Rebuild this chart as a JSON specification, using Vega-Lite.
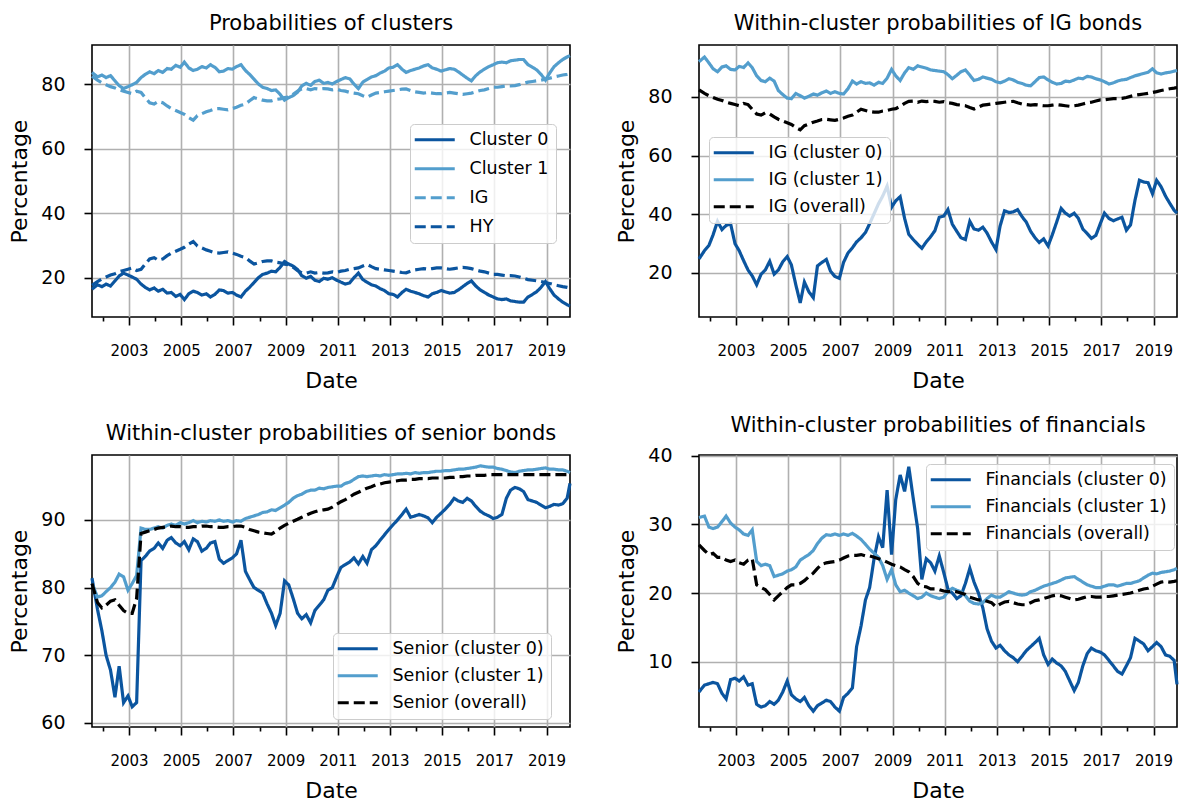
{
"$schema": "https://vega.github.io/schema/vega-lite/v6.json",
"padding": {"left": 8, "top": 12, "right": 8, "bottom": 3},
"config": {
  "font": "DejaVu Sans",
  "view": {"stroke": "#000000", "strokeWidth": 1.6},
  "axis": {"domain": false, "grid": true, "gridColor": "#b0b0b0", "gridWidth": 1.6, "tickColor": "#000000", "tickWidth": 1.6, "labelColor": "#000000", "titleColor": "#000000", "titleFontWeight": "normal", "labelFont": "DejaVu Sans", "titleFont": "DejaVu Sans"},
  "axisX": {"labelFontSize": 15, "titleFontSize": 22, "labelPadding": 18, "titlePadding": 12, "labelFlush": false, "labelOverlap": false},
  "axisY": {"labelFontSize": 19, "titleFontSize": 22, "tickSize": 8, "labelPadding": 19, "titlePadding": 9},
  "title": {"fontSize": 21, "fontWeight": "normal", "font": "DejaVu Sans", "color": "#000000", "offset": 11},
  "legend": {"orient": "none", "labelFontSize": 17.5, "labelFont": "DejaVu Sans", "labelColor": "#000000", "symbolType": "M-4,0H4", "symbolStrokeWidth": 3.2, "symbolSize": 100, "symbolOffset": 9, "labelOffset": 26, "padding": 7, "rowPadding": 8, "fillColor": "rgba(255,255,255,0.8)", "strokeColor": "#cccccc", "cornerRadius": 4, "labelLimit": 400}
},
"data": {"values": [
{"t":2001.58,"c1":83.6,"c0":16.4,"ig":82.4,"hy":17.6,"a0":24.8,"a1":92.0,"s0":81.4,"s1":80.6,"so":80.6,"f0":5.6,"f1":31.0,"fo":27.0},
{"t":2001.79,"c1":82.2,"c0":17.8,"ig":81.2,"hy":18.8,"a0":27.6,"a1":93.6,"s0":76.8,"s1":78.6,"so":77.8,"f0":6.6,"f1":31.2,"fo":26.2},
{"t":2001.96,"c1":82.8,"c0":17.2,"ig":80.4,"hy":19.6,"a0":29.4,"a1":91.6,"s0":73.6,"s1":78.8,"so":77.0,"f0":6.8,"f1":29.6,"fo":25.6},
{"t":2002.12,"c1":82.0,"c0":18.0,"ig":79.8,"hy":20.2,"a0":33.0,"a1":89.6,"s0":70.0,"s1":79.4,"so":77.4,"f0":7.0,"f1":29.4,"fo":25.8},
{"t":2002.29,"c1":82.6,"c0":17.4,"ig":79.2,"hy":20.8,"a0":37.6,"a1":88.6,"s0":67.8,"s1":80.0,"so":78.0,"f0":6.8,"f1":29.6,"fo":25.2},
{"t":2002.46,"c1":81.0,"c0":19.0,"ig":78.8,"hy":21.2,"a0":34.8,"a1":90.2,"s0":63.8,"s1":80.8,"so":78.2,"f0":5.4,"f1":30.4,"fo":25.2},
{"t":2002.62,"c1":79.5,"c0":20.5,"ig":78.2,"hy":21.8,"a0":36.2,"a1":90.6,"s0":68.4,"s1":82.0,"so":77.4,"f0":4.6,"f1":31.2,"fo":24.8},
{"t":2002.79,"c1":78.6,"c0":21.4,"ig":77.8,"hy":22.2,"a0":36.8,"a1":89.4,"s0":63.0,"s1":81.6,"so":76.6,"f0":7.4,"f1":30.2,"fo":24.6},
{"t":2002.96,"c1":79.2,"c0":20.8,"ig":77.4,"hy":22.6,"a0":30.0,"a1":89.2,"s0":64.0,"s1":79.6,"so":76.2,"f0":7.6,"f1":29.6,"fo":24.8},
{"t":2003.12,"c1":79.8,"c0":20.2,"ig":77.0,"hy":23.0,"a0":27.6,"a1":90.4,"s0":62.4,"s1":80.6,"so":76.2,"f0":7.2,"f1":29.2,"fo":24.4},
{"t":2003.29,"c1":80.5,"c0":19.5,"ig":77.8,"hy":22.2,"a0":24.2,"a1":90.0,"s0":63.0,"s1":81.8,"so":78.4,"f0":7.8,"f1":28.6,"fo":24.2},
{"t":2003.46,"c1":82.0,"c0":18.0,"ig":77.4,"hy":22.6,"a0":21.0,"a1":91.6,"s0":84.0,"s1":88.8,"so":88.0,"f0":6.6,"f1":28.4,"fo":24.8},
{"t":2003.62,"c1":83.0,"c0":17.0,"ig":75.8,"hy":24.2,"a0":19.0,"a1":90.0,"s0":84.6,"s1":88.6,"so":88.2,"f0":6.8,"f1":29.2,"fo":25.0},
{"t":2003.79,"c1":83.8,"c0":16.2,"ig":74.2,"hy":25.8,"a0":16.0,"a1":87.2,"s0":85.4,"s1":88.6,"so":88.4,"f0":3.8,"f1":24.6,"fo":21.2},
{"t":2003.96,"c1":83.2,"c0":16.8,"ig":73.8,"hy":26.2,"a0":19.6,"a1":85.6,"s0":85.8,"s1":88.8,"so":88.6,"f0":3.4,"f1":24.0,"fo":20.8},
{"t":2004.12,"c1":84.2,"c0":15.8,"ig":74.6,"hy":25.4,"a0":21.0,"a1":85.2,"s0":86.6,"s1":89.0,"so":88.8,"f0":3.6,"f1":24.2,"fo":20.5},
{"t":2004.29,"c1":83.6,"c0":16.4,"ig":74.2,"hy":25.8,"a0":24.0,"a1":86.4,"s0":85.8,"s1":88.8,"so":88.9,"f0":4.2,"f1":24.0,"fo":19.8},
{"t":2004.46,"c1":84.8,"c0":15.2,"ig":73.2,"hy":26.8,"a0":19.6,"a1":85.4,"s0":87.0,"s1":89.2,"so":89.0,"f0":3.8,"f1":22.4,"fo":19.0},
{"t":2004.62,"c1":84.6,"c0":15.4,"ig":72.4,"hy":27.6,"a0":21.0,"a1":82.2,"s0":87.4,"s1":89.4,"so":89.1,"f0":4.4,"f1":22.6,"fo":19.6},
{"t":2004.79,"c1":85.8,"c0":14.2,"ig":71.8,"hy":28.2,"a0":23.8,"a1":80.8,"s0":86.6,"s1":89.2,"so":89.0,"f0":5.6,"f1":22.8,"fo":20.2},
{"t":2004.96,"c1":85.2,"c0":14.8,"ig":71.2,"hy":28.8,"a0":25.6,"a1":79.6,"s0":86.2,"s1":89.6,"so":89.0,"f0":7.2,"f1":23.2,"fo":20.8},
{"t":2005.12,"c1":86.8,"c0":13.2,"ig":70.6,"hy":29.4,"a0":22.8,"a1":79.4,"s0":86.8,"s1":89.4,"so":88.9,"f0":5.2,"f1":23.4,"fo":21.2},
{"t":2005.29,"c1":85.0,"c0":15.0,"ig":69.6,"hy":30.4,"a0":16.0,"a1":81.2,"s0":85.6,"s1":89.6,"so":88.9,"f0":4.6,"f1":23.8,"fo":21.2},
{"t":2005.46,"c1":84.2,"c0":15.8,"ig":68.8,"hy":31.2,"a0":9.8,"a1":80.4,"s0":87.2,"s1":89.9,"so":89.0,"f0":4.2,"f1":24.8,"fo":21.4},
{"t":2005.62,"c1":84.6,"c0":15.4,"ig":70.2,"hy":29.8,"a0":16.9,"a1":79.6,"s0":86.8,"s1":89.6,"so":89.0,"f0":4.8,"f1":25.2,"fo":21.8},
{"t":2005.79,"c1":85.4,"c0":14.6,"ig":70.8,"hy":29.2,"a0":13.6,"a1":80.2,"s0":85.4,"s1":89.8,"so":89.1,"f0":3.6,"f1":25.6,"fo":22.4},
{"t":2005.96,"c1":85.0,"c0":15.0,"ig":71.4,"hy":28.6,"a0":11.6,"a1":81.0,"s0":85.8,"s1":89.7,"so":89.1,"f0":2.8,"f1":26.2,"fo":22.9},
{"t":2006.12,"c1":86.0,"c0":14.0,"ig":71.8,"hy":28.2,"a0":22.4,"a1":80.6,"s0":86.6,"s1":89.9,"so":89.0,"f0":3.6,"f1":27.2,"fo":23.6},
{"t":2006.29,"c1":85.2,"c0":14.8,"ig":72.3,"hy":27.7,"a0":23.6,"a1":81.4,"s0":86.8,"s1":89.8,"so":89.0,"f0":4.0,"f1":28.0,"fo":24.2},
{"t":2006.46,"c1":83.8,"c0":16.2,"ig":72.4,"hy":27.6,"a0":24.6,"a1":82.0,"s0":84.2,"s1":90.0,"so":88.9,"f0":4.4,"f1":28.5,"fo":24.4},
{"t":2006.62,"c1":84.0,"c0":16.0,"ig":72.2,"hy":27.8,"a0":20.6,"a1":81.2,"s0":83.6,"s1":89.8,"so":88.9,"f0":4.2,"f1":28.4,"fo":24.5},
{"t":2006.79,"c1":84.8,"c0":15.2,"ig":72.0,"hy":28.0,"a0":18.8,"a1":81.8,"s0":84.0,"s1":89.9,"so":89.0,"f0":3.4,"f1":28.6,"fo":24.6},
{"t":2006.96,"c1":84.6,"c0":15.4,"ig":72.4,"hy":27.6,"a0":18.2,"a1":81.2,"s0":84.4,"s1":89.7,"so":89.0,"f0":2.8,"f1":28.4,"fo":24.8},
{"t":2007.12,"c1":85.4,"c0":14.6,"ig":72.8,"hy":27.2,"a0":23.6,"a1":81.0,"s0":85.0,"s1":89.9,"so":89.1,"f0":4.8,"f1":28.6,"fo":25.1},
{"t":2007.29,"c1":86.0,"c0":14.0,"ig":73.4,"hy":26.6,"a0":26.8,"a1":82.8,"s0":87.0,"s1":89.8,"so":89.1,"f0":5.4,"f1":28.4,"fo":25.4},
{"t":2007.46,"c1":84.2,"c0":15.8,"ig":73.8,"hy":26.2,"a0":28.6,"a1":85.4,"s0":82.4,"s1":90.2,"so":88.9,"f0":6.2,"f1":28.7,"fo":25.5},
{"t":2007.62,"c1":83.0,"c0":17.0,"ig":74.8,"hy":25.2,"a0":30.6,"a1":84.4,"s0":81.2,"s1":90.4,"so":88.6,"f0":12.2,"f1":28.3,"fo":25.5},
{"t":2007.79,"c1":81.5,"c0":18.5,"ig":75.8,"hy":24.2,"a0":32.0,"a1":85.2,"s0":80.0,"s1":90.6,"so":88.4,"f0":15.2,"f1":27.8,"fo":25.6},
{"t":2007.96,"c1":80.0,"c0":20.0,"ig":75.4,"hy":24.6,"a0":33.8,"a1":84.6,"s0":79.6,"s1":90.8,"so":88.2,"f0":19.0,"f1":27.1,"fo":25.4},
{"t":2008.12,"c1":79.0,"c0":21.0,"ig":75.0,"hy":25.0,"a0":36.8,"a1":84.8,"s0":79.2,"s1":91.1,"so":88.1,"f0":20.8,"f1":26.4,"fo":25.4},
{"t":2008.29,"c1":78.6,"c0":21.4,"ig":74.8,"hy":25.2,"a0":40.2,"a1":84.0,"s0":77.6,"s1":91.2,"so":88.0,"f0":25.0,"f1":25.8,"fo":25.2},
{"t":2008.46,"c1":78.0,"c0":22.0,"ig":74.8,"hy":25.2,"a0":43.6,"a1":85.0,"s0":76.2,"s1":91.5,"so":87.9,"f0":28.2,"f1":25.2,"fo":25.0},
{"t":2008.62,"c1":78.2,"c0":21.8,"ig":75.2,"hy":24.8,"a0":46.2,"a1":84.6,"s0":74.4,"s1":91.4,"so":88.3,"f0":26.6,"f1":24.0,"fo":24.8},
{"t":2008.79,"c1":76.8,"c0":23.2,"ig":75.4,"hy":24.6,"a0":49.6,"a1":86.4,"s0":76.2,"s1":91.8,"so":88.8,"f0":35.0,"f1":22.0,"fo":24.5},
{"t":2008.96,"c1":75.0,"c0":25.0,"ig":75.8,"hy":24.2,"a0":42.4,"a1":89.4,"s0":81.0,"s1":92.2,"so":89.2,"f0":25.6,"f1":23.4,"fo":24.2},
{"t":2009.12,"c1":75.8,"c0":24.2,"ig":76.0,"hy":24.0,"a0":44.6,"a1":87.2,"s0":80.4,"s1":92.6,"so":89.5,"f0":33.6,"f1":21.2,"fo":24.0},
{"t":2009.29,"c1":76.4,"c0":23.6,"ig":76.8,"hy":23.2,"a0":46.0,"a1":85.6,"s0":78.4,"s1":93.2,"so":89.8,"f0":37.2,"f1":20.2,"fo":23.8},
{"t":2009.46,"c1":77.5,"c0":22.5,"ig":77.8,"hy":22.2,"a0":38.6,"a1":88.2,"s0":76.2,"s1":93.6,"so":90.1,"f0":34.8,"f1":20.4,"fo":23.4},
{"t":2009.62,"c1":79.4,"c0":20.6,"ig":78.5,"hy":21.5,"a0":33.2,"a1":90.0,"s0":75.4,"s1":93.8,"so":90.4,"f0":38.4,"f1":20.0,"fo":23.1},
{"t":2009.79,"c1":80.2,"c0":19.8,"ig":78.6,"hy":21.4,"a0":31.4,"a1":89.4,"s0":76.0,"s1":94.2,"so":90.7,"f0":33.8,"f1":19.6,"fo":22.4},
{"t":2009.96,"c1":79.6,"c0":20.4,"ig":78.2,"hy":21.8,"a0":29.8,"a1":90.6,"s0":74.8,"s1":94.4,"so":91.0,"f0":29.4,"f1":19.2,"fo":21.4},
{"t":2010.12,"c1":80.8,"c0":19.2,"ig":78.6,"hy":21.4,"a0":28.4,"a1":90.2,"s0":76.6,"s1":94.4,"so":91.2,"f0":22.0,"f1":19.4,"fo":21.0},
{"t":2010.29,"c1":81.2,"c0":18.8,"ig":78.4,"hy":21.6,"a0":30.6,"a1":89.8,"s0":77.4,"s1":94.7,"so":91.4,"f0":25.0,"f1":20.0,"fo":20.9},
{"t":2010.46,"c1":80.2,"c0":19.8,"ig":78.6,"hy":21.4,"a0":32.4,"a1":89.2,"s0":78.2,"s1":94.6,"so":91.5,"f0":24.4,"f1":19.6,"fo":20.6},
{"t":2010.62,"c1":80.5,"c0":19.5,"ig":78.5,"hy":21.5,"a0":34.4,"a1":89.0,"s0":79.6,"s1":94.8,"so":91.6,"f0":23.2,"f1":19.4,"fo":20.6},
{"t":2010.79,"c1":80.0,"c0":20.0,"ig":78.2,"hy":21.8,"a0":39.0,"a1":88.8,"s0":80.0,"s1":94.9,"so":91.9,"f0":25.4,"f1":19.2,"fo":20.5},
{"t":2010.96,"c1":80.8,"c0":19.2,"ig":78.4,"hy":21.6,"a0":39.4,"a1":88.6,"s0":81.6,"s1":95.0,"so":92.3,"f0":23.0,"f1":19.4,"fo":20.3},
{"t":2011.12,"c1":81.4,"c0":18.6,"ig":78.0,"hy":22.0,"a0":41.6,"a1":87.6,"s0":83.0,"s1":95.0,"so":92.7,"f0":20.6,"f1":20.2,"fo":20.2},
{"t":2011.29,"c1":82.0,"c0":18.0,"ig":77.8,"hy":22.2,"a0":36.6,"a1":86.2,"s0":83.4,"s1":95.4,"so":93.0,"f0":20.0,"f1":20.7,"fo":20.3},
{"t":2011.46,"c1":81.6,"c0":18.4,"ig":77.4,"hy":22.6,"a0":34.2,"a1":87.4,"s0":83.8,"s1":95.6,"so":93.4,"f0":19.2,"f1":20.4,"fo":20.2},
{"t":2011.62,"c1":80.0,"c0":20.0,"ig":77.2,"hy":22.8,"a0":32.0,"a1":88.6,"s0":84.4,"s1":96.0,"so":93.8,"f0":19.6,"f1":20.2,"fo":20.0},
{"t":2011.79,"c1":78.6,"c0":21.4,"ig":77.0,"hy":23.0,"a0":31.4,"a1":89.2,"s0":83.5,"s1":96.4,"so":94.1,"f0":21.4,"f1":19.6,"fo":19.8},
{"t":2011.96,"c1":80.6,"c0":19.4,"ig":76.4,"hy":23.6,"a0":37.6,"a1":87.4,"s0":84.6,"s1":96.5,"so":94.4,"f0":23.6,"f1":18.8,"fo":19.4},
{"t":2012.12,"c1":81.4,"c0":18.6,"ig":75.9,"hy":24.1,"a0":35.0,"a1":85.6,"s0":83.6,"s1":96.4,"so":94.7,"f0":21.6,"f1":18.5,"fo":19.2},
{"t":2012.29,"c1":82.2,"c0":17.8,"ig":76.6,"hy":23.4,"a0":34.6,"a1":86.0,"s0":85.6,"s1":96.5,"so":94.9,"f0":20.0,"f1":18.4,"fo":19.0},
{"t":2012.46,"c1":82.6,"c0":17.4,"ig":77.2,"hy":22.8,"a0":35.6,"a1":86.8,"s0":86.2,"s1":96.6,"so":95.2,"f0":17.8,"f1":18.6,"fo":19.0},
{"t":2012.62,"c1":83.4,"c0":16.6,"ig":77.4,"hy":22.6,"a0":33.6,"a1":86.4,"s0":87.0,"s1":96.5,"so":95.3,"f0":14.8,"f1":19.2,"fo":18.8},
{"t":2012.79,"c1":84.0,"c0":16.0,"ig":77.6,"hy":22.4,"a0":30.6,"a1":86.0,"s0":87.8,"s1":96.7,"so":95.5,"f0":13.0,"f1":19.7,"fo":18.6},
{"t":2012.96,"c1":85.0,"c0":15.0,"ig":77.8,"hy":22.2,"a0":28.0,"a1":85.2,"s0":88.6,"s1":96.6,"so":95.6,"f0":12.0,"f1":19.4,"fo":18.0},
{"t":2013.12,"c1":85.2,"c0":14.8,"ig":78.0,"hy":22.0,"a0":36.0,"a1":84.8,"s0":89.3,"s1":96.7,"so":95.7,"f0":12.4,"f1":19.4,"fo":18.4},
{"t":2013.29,"c1":86.0,"c0":14.0,"ig":78.2,"hy":21.8,"a0":41.2,"a1":85.4,"s0":90.0,"s1":96.8,"so":95.8,"f0":11.6,"f1":19.8,"fo":18.7},
{"t":2013.46,"c1":84.6,"c0":15.4,"ig":78.4,"hy":21.6,"a0":40.6,"a1":86.2,"s0":90.8,"s1":96.8,"so":95.9,"f0":11.0,"f1":20.2,"fo":18.8},
{"t":2013.62,"c1":83.6,"c0":16.4,"ig":78.5,"hy":21.5,"a0":40.8,"a1":85.8,"s0":91.6,"s1":96.9,"so":95.9,"f0":10.6,"f1":20.0,"fo":18.6},
{"t":2013.79,"c1":84.2,"c0":15.8,"ig":78.0,"hy":22.0,"a0":41.6,"a1":85.0,"s0":90.4,"s1":96.8,"so":96.0,"f0":10.0,"f1":19.8,"fo":18.4},
{"t":2013.96,"c1":84.6,"c0":15.4,"ig":77.6,"hy":22.4,"a0":39.2,"a1":84.6,"s0":90.6,"s1":97.0,"so":96.0,"f0":10.8,"f1":19.7,"fo":18.3},
{"t":2014.12,"c1":85.0,"c0":15.0,"ig":77.4,"hy":22.6,"a0":37.4,"a1":84.0,"s0":90.8,"s1":96.9,"so":96.1,"f0":11.6,"f1":19.8,"fo":18.3},
{"t":2014.29,"c1":85.6,"c0":14.4,"ig":77.2,"hy":22.8,"a0":34.2,"a1":83.8,"s0":90.6,"s1":97.0,"so":96.1,"f0":12.2,"f1":20.2,"fo":18.6},
{"t":2014.46,"c1":86.0,"c0":14.0,"ig":77.4,"hy":22.6,"a0":32.0,"a1":85.2,"s0":90.3,"s1":97.0,"so":96.1,"f0":12.8,"f1":20.4,"fo":18.9},
{"t":2014.62,"c1":85.0,"c0":15.0,"ig":77.2,"hy":22.8,"a0":30.4,"a1":86.6,"s0":89.6,"s1":97.1,"so":96.2,"f0":13.4,"f1":20.7,"fo":19.0},
{"t":2014.79,"c1":84.6,"c0":15.4,"ig":77.0,"hy":23.0,"a0":31.6,"a1":86.8,"s0":90.4,"s1":97.2,"so":96.2,"f0":11.0,"f1":21.0,"fo":19.2},
{"t":2014.96,"c1":84.0,"c0":16.0,"ig":77.0,"hy":23.0,"a0":29.2,"a1":85.8,"s0":91.0,"s1":97.2,"so":96.2,"f0":9.6,"f1":21.2,"fo":19.4},
{"t":2015.12,"c1":84.4,"c0":15.6,"ig":77.2,"hy":22.8,"a0":33.0,"a1":85.0,"s0":91.6,"s1":97.3,"so":96.2,"f0":10.4,"f1":21.4,"fo":19.6},
{"t":2015.29,"c1":84.8,"c0":15.2,"ig":77.4,"hy":22.6,"a0":37.4,"a1":84.4,"s0":92.3,"s1":97.3,"so":96.3,"f0":9.8,"f1":21.6,"fo":19.7},
{"t":2015.46,"c1":84.6,"c0":15.4,"ig":77.2,"hy":22.8,"a0":42.0,"a1":84.6,"s0":93.2,"s1":97.4,"so":96.3,"f0":9.4,"f1":21.9,"fo":19.6},
{"t":2015.62,"c1":83.8,"c0":16.2,"ig":77.0,"hy":23.0,"a0":40.4,"a1":85.4,"s0":92.8,"s1":97.5,"so":96.4,"f0":8.6,"f1":22.2,"fo":19.4},
{"t":2015.79,"c1":82.8,"c0":17.2,"ig":76.8,"hy":23.2,"a0":39.4,"a1":85.2,"s0":92.6,"s1":97.5,"so":96.4,"f0":7.2,"f1":22.3,"fo":19.2},
{"t":2015.96,"c1":81.8,"c0":18.2,"ig":77.0,"hy":23.0,"a0":40.4,"a1":85.8,"s0":93.2,"s1":97.6,"so":96.5,"f0":5.8,"f1":22.4,"fo":19.0},
{"t":2016.12,"c1":81.0,"c0":19.0,"ig":77.2,"hy":22.8,"a0":38.6,"a1":86.4,"s0":92.8,"s1":97.7,"so":96.5,"f0":7.0,"f1":22.0,"fo":19.1},
{"t":2016.29,"c1":82.6,"c0":17.4,"ig":77.6,"hy":22.4,"a0":35.0,"a1":86.2,"s0":92.0,"s1":97.8,"so":96.6,"f0":9.4,"f1":21.6,"fo":19.3},
{"t":2016.46,"c1":83.8,"c0":16.2,"ig":78.0,"hy":22.0,"a0":33.4,"a1":87.0,"s0":91.3,"s1":98.0,"so":96.6,"f0":11.2,"f1":21.2,"fo":19.5},
{"t":2016.62,"c1":84.6,"c0":15.4,"ig":78.2,"hy":21.8,"a0":31.8,"a1":86.8,"s0":90.9,"s1":97.9,"so":96.6,"f0":12.0,"f1":21.0,"fo":19.5},
{"t":2016.79,"c1":85.4,"c0":14.6,"ig":78.6,"hy":21.4,"a0":32.8,"a1":86.2,"s0":90.6,"s1":97.8,"so":96.7,"f0":11.6,"f1":20.8,"fo":19.4},
{"t":2016.96,"c1":86.0,"c0":14.0,"ig":79.0,"hy":21.0,"a0":36.8,"a1":85.8,"s0":90.2,"s1":97.8,"so":96.7,"f0":11.4,"f1":20.8,"fo":19.4},
{"t":2017.12,"c1":86.6,"c0":13.4,"ig":79.0,"hy":21.0,"a0":40.4,"a1":85.2,"s0":90.4,"s1":97.6,"so":96.7,"f0":11.0,"f1":21.0,"fo":19.5},
{"t":2017.29,"c1":86.8,"c0":13.2,"ig":79.2,"hy":20.8,"a0":38.6,"a1":84.4,"s0":90.8,"s1":97.5,"so":96.7,"f0":10.2,"f1":21.2,"fo":19.5},
{"t":2017.46,"c1":86.6,"c0":13.4,"ig":79.4,"hy":20.6,"a0":37.8,"a1":84.8,"s0":93.2,"s1":97.3,"so":96.7,"f0":9.4,"f1":21.2,"fo":19.6},
{"t":2017.62,"c1":87.2,"c0":12.8,"ig":79.4,"hy":20.6,"a0":38.4,"a1":85.4,"s0":94.4,"s1":97.1,"so":96.7,"f0":8.6,"f1":21.0,"fo":19.7},
{"t":2017.79,"c1":87.4,"c0":12.6,"ig":79.5,"hy":20.5,"a0":39.0,"a1":85.8,"s0":94.8,"s1":97.0,"so":96.7,"f0":8.2,"f1":21.2,"fo":19.8},
{"t":2017.96,"c1":87.6,"c0":12.4,"ig":79.8,"hy":20.2,"a0":34.6,"a1":86.0,"s0":94.6,"s1":97.2,"so":96.7,"f0":9.4,"f1":21.4,"fo":19.9},
{"t":2018.12,"c1":87.6,"c0":12.4,"ig":80.2,"hy":19.8,"a0":36.4,"a1":86.6,"s0":94.2,"s1":97.3,"so":96.7,"f0":10.6,"f1":21.4,"fo":20.0},
{"t":2018.29,"c1":86.0,"c0":14.0,"ig":80.6,"hy":19.4,"a0":44.8,"a1":87.2,"s0":93.0,"s1":97.4,"so":96.7,"f0":13.4,"f1":21.6,"fo":20.2},
{"t":2018.46,"c1":85.2,"c0":14.8,"ig":80.8,"hy":19.2,"a0":51.6,"a1":87.6,"s0":92.8,"s1":97.4,"so":96.7,"f0":13.0,"f1":21.8,"fo":20.4},
{"t":2018.62,"c1":84.4,"c0":15.6,"ig":81.0,"hy":19.0,"a0":51.0,"a1":88.0,"s0":92.6,"s1":97.5,"so":96.7,"f0":12.6,"f1":22.2,"fo":20.6},
{"t":2018.79,"c1":83.0,"c0":17.0,"ig":81.2,"hy":18.8,"a0":50.8,"a1":88.4,"s0":92.2,"s1":97.6,"so":96.7,"f0":11.6,"f1":22.6,"fo":20.7},
{"t":2018.96,"c1":81.2,"c0":18.8,"ig":81.5,"hy":18.5,"a0":47.0,"a1":89.6,"s0":91.8,"s1":97.7,"so":96.7,"f0":12.2,"f1":22.9,"fo":21.0},
{"t":2019.12,"c1":83.4,"c0":16.6,"ig":81.8,"hy":18.2,"a0":51.6,"a1":88.2,"s0":92.0,"s1":97.5,"so":96.7,"f0":12.8,"f1":22.8,"fo":21.3},
{"t":2019.29,"c1":85.4,"c0":14.6,"ig":82.2,"hy":17.8,"a0":49.4,"a1":87.8,"s0":92.3,"s1":97.5,"so":96.7,"f0":12.2,"f1":23.0,"fo":21.6},
{"t":2019.46,"c1":86.6,"c0":13.4,"ig":82.5,"hy":17.5,"a0":46.2,"a1":88.2,"s0":92.2,"s1":97.4,"so":96.7,"f0":11.0,"f1":23.1,"fo":21.7},
{"t":2019.62,"c1":87.6,"c0":12.4,"ig":82.8,"hy":17.2,"a0":43.8,"a1":88.4,"s0":92.4,"s1":97.4,"so":96.7,"f0":10.8,"f1":23.2,"fo":21.6},
{"t":2019.79,"c1":88.4,"c0":11.6,"ig":83.0,"hy":17.0,"a0":41.4,"a1":88.8,"s0":93.2,"s1":97.2,"so":96.7,"f0":10.2,"f1":23.4,"fo":21.7},
{"t":2019.90,"c1":88.8,"c0":11.2,"ig":83.2,"hy":16.8,"a0":40.4,"a1":89.0,"s0":95.4,"s1":97.0,"so":96.7,"f0":6.7,"f1":23.6,"fo":21.8}
]},
"columns": 2,
"spacing": {"row": 138, "column": 129},
"bounds": "flush",
"resolve": {"scale": {"x": "independent", "y": "independent", "color": "independent", "strokeDash": "independent"}, "legend": {"color": "independent", "strokeDash": "independent"}},
"concat": [
{
  "title": "Probabilities of clusters",
  "width": 478, "height": 272,
  "transform": [{"fold": ["c0", "c1", "ig", "hy"], "as": ["k", "v"]}],
  "mark": {"type": "line", "strokeWidth": 3.2},
  "encoding": {
    "x": {"field": "t", "type": "quantitative", "scale": {"domain": [2001.58, 2019.9], "nice": false, "zero": false},
      "axis": {"title": "Date", "values": [2002,2003,2004,2005,2006,2007,2008,2009,2010,2011,2012,2013,2014,2015,2016,2017,2018,2019], "format": "d", "labelExpr": "datum.value % 2 == 1 ? datum.label : ''", "tickSize": {"condition": {"test": "datum.value % 2 == 0", "value": 4}, "value": 8}, "gridOpacity": {"condition": {"test": "datum.value % 2 == 0", "value": 0}, "value": 1}}},
    "y": {"field": "v", "type": "quantitative", "scale": {"domain": [7.8, 92.1], "nice": false, "zero": false}, "axis": {"title": "Percentage", "values": [20, 40, 60, 80]}},
    "color": {"field": "k", "type": "nominal", "scale": {"domain": ["c0", "c1", "ig", "hy"], "range": ["#0b559f", "#539ecd", "#539ecd", "#0b559f"]},
      "legend": {"title": null, "legendX": 318, "legendY": 79, "rowPadding": 10, "labelExpr": "{'c0':'Cluster 0','c1':'Cluster 1','ig':'IG','hy':'HY'}[datum.label]"}},
    "strokeDash": {"field": "k", "type": "nominal", "scale": {"domain": ["c0", "c1", "ig", "hy"], "range": [[1, 0], [1, 0], [11, 5], [11, 5]]},
      "legend": {"title": null, "legendX": 318, "legendY": 79, "rowPadding": 10, "labelExpr": "{'c0':'Cluster 0','c1':'Cluster 1','ig':'IG','hy':'HY'}[datum.label]"}}
  }
},
{
  "title": "Within-cluster probabilities of IG bonds",
  "width": 478, "height": 272,
  "transform": [{"fold": ["a0", "a1", "ig"], "as": ["k", "v"]}],
  "mark": {"type": "line", "strokeWidth": 3.2},
  "encoding": {
    "x": {"field": "t", "type": "quantitative", "scale": {"domain": [2001.58, 2019.9], "nice": false, "zero": false},
      "axis": {"title": "Date", "values": [2002,2003,2004,2005,2006,2007,2008,2009,2010,2011,2012,2013,2014,2015,2016,2017,2018,2019], "format": "d", "labelExpr": "datum.value % 2 == 1 ? datum.label : ''", "tickSize": {"condition": {"test": "datum.value % 2 == 0", "value": 4}, "value": 8}, "gridOpacity": {"condition": {"test": "datum.value % 2 == 0", "value": 0}, "value": 1}}},
    "y": {"field": "v", "type": "quantitative", "scale": {"domain": [5, 97.7], "nice": false, "zero": false}, "axis": {"title": "Percentage", "values": [20, 40, 60, 80]}},
    "color": {"field": "k", "type": "nominal", "scale": {"domain": ["a0", "a1", "ig"], "range": ["#0b559f", "#539ecd", "#000000"]},
      "legend": {"title": null, "legendX": 10, "legendY": 92, "labelExpr": "{'a0':'IG (cluster 0)','a1':'IG (cluster 1)','ig':'IG (overall)'}[datum.label]"}},
    "strokeDash": {"field": "k", "type": "nominal", "scale": {"domain": ["a0", "a1", "ig"], "range": [[1, 0], [1, 0], [11, 5]]},
      "legend": {"title": null, "legendX": 10, "legendY": 92, "labelExpr": "{'a0':'IG (cluster 0)','a1':'IG (cluster 1)','ig':'IG (overall)'}[datum.label]"}}
  }
},
{
  "title": "Within-cluster probabilities of senior bonds",
  "width": 478, "height": 272,
  "transform": [{"fold": ["s0", "s1", "so"], "as": ["k", "v"]}],
  "mark": {"type": "line", "strokeWidth": 3.2},
  "encoding": {
    "x": {"field": "t", "type": "quantitative", "scale": {"domain": [2001.58, 2019.9], "nice": false, "zero": false},
      "axis": {"title": "Date", "values": [2002,2003,2004,2005,2006,2007,2008,2009,2010,2011,2012,2013,2014,2015,2016,2017,2018,2019], "format": "d", "labelExpr": "datum.value % 2 == 1 ? datum.label : ''", "tickSize": {"condition": {"test": "datum.value % 2 == 0", "value": 4}, "value": 8}, "gridOpacity": {"condition": {"test": "datum.value % 2 == 0", "value": 0}, "value": 1}}},
    "y": {"field": "v", "type": "quantitative", "scale": {"domain": [59.4, 99.6], "nice": false, "zero": false}, "axis": {"title": "Percentage", "values": [60, 70, 80, 90]}},
    "color": {"field": "k", "type": "nominal", "scale": {"domain": ["s0", "s1", "so"], "range": ["#0b559f", "#539ecd", "#000000"]},
      "legend": {"title": null, "legendX": 241, "legendY": 178, "labelExpr": "{'s0':'Senior (cluster 0)','s1':'Senior (cluster 1)','so':'Senior (overall)'}[datum.label]"}},
    "strokeDash": {"field": "k", "type": "nominal", "scale": {"domain": ["s0", "s1", "so"], "range": [[1, 0], [1, 0], [11, 5]]},
      "legend": {"title": null, "legendX": 241, "legendY": 178, "labelExpr": "{'s0':'Senior (cluster 0)','s1':'Senior (cluster 1)','so':'Senior (overall)'}[datum.label]"}}
  }
},
{
  "title": "Within-cluster probabilities of financials",
  "width": 478, "height": 272,
  "transform": [{"fold": ["f0", "f1", "fo"], "as": ["k", "v"]}],
  "mark": {"type": "line", "strokeWidth": 3.2},
  "encoding": {
    "x": {"field": "t", "type": "quantitative", "scale": {"domain": [2001.58, 2019.9], "nice": false, "zero": false},
      "axis": {"title": "Date", "values": [2002,2003,2004,2005,2006,2007,2008,2009,2010,2011,2012,2013,2014,2015,2016,2017,2018,2019], "format": "d", "labelExpr": "datum.value % 2 == 1 ? datum.label : ''", "tickSize": {"condition": {"test": "datum.value % 2 == 0", "value": 4}, "value": 8}, "gridOpacity": {"condition": {"test": "datum.value % 2 == 0", "value": 0}, "value": 1}}},
    "y": {"field": "v", "type": "quantitative", "scale": {"domain": [0.5, 40.1], "nice": false, "zero": false}, "axis": {"title": "Percentage", "values": [10, 20, 30, 40]}},
    "color": {"field": "k", "type": "nominal", "scale": {"domain": ["f0", "f1", "fo"], "range": ["#0b559f", "#539ecd", "#000000"]},
      "legend": {"title": null, "legendX": 227, "legendY": 9, "labelExpr": "{'f0':'Financials (cluster 0)','f1':'Financials (cluster 1)','fo':'Financials (overall)'}[datum.label]"}},
    "strokeDash": {"field": "k", "type": "nominal", "scale": {"domain": ["f0", "f1", "fo"], "range": [[1, 0], [1, 0], [11, 5]]},
      "legend": {"title": null, "legendX": 227, "legendY": 9, "labelExpr": "{'f0':'Financials (cluster 0)','f1':'Financials (cluster 1)','fo':'Financials (overall)'}[datum.label]"}}
  }
}
]
}
